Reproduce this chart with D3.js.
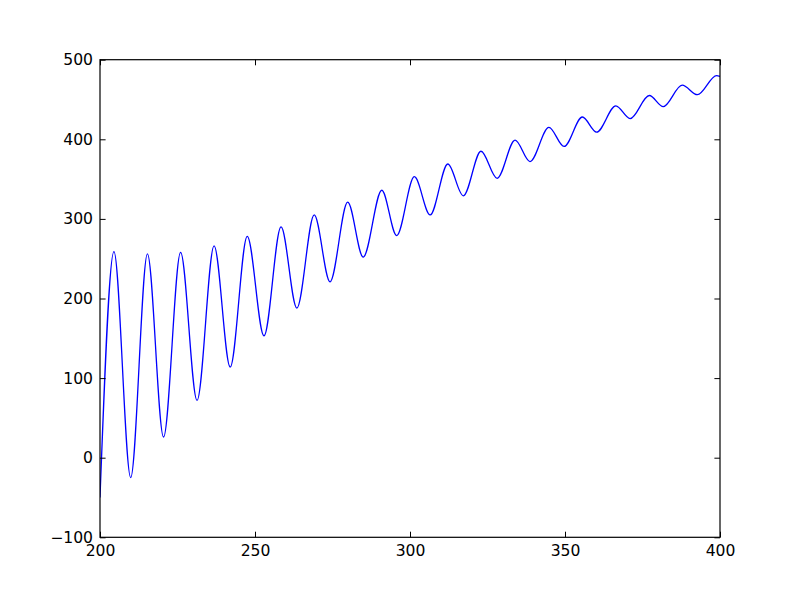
<!DOCTYPE html>
<html>
<head>
<meta charset="utf-8">
<script src="https://cdn.jsdelivr.net/npm/d3@7"></script>
<style>
  body { margin: 0; background: #fff; }
  svg { display: block; }
  .tick text { font-family: "DejaVu Sans", sans-serif; font-size: 15.6px; fill: #000; }
</style>
</head>
<body>
<div id="chart"></div>
<script>
// turning points of the curve: [x, y]
var xs = [200, 204.5, 209.9, 215.3, 220.5, 226.0, 231.3, 236.8, 242.0, 247.5, 252.9,
          258.4, 263.5, 269.1, 274.2, 279.9, 284.9, 290.9, 295.7, 301.4, 306.5,
          312.2, 317.2, 322.9, 328.1, 333.9, 338.7, 344.8, 349.7, 355.6, 360.2,
          366.4, 371.0, 377.2, 381.7, 387.8, 392.7, 398.9, 400];
var ys = [-50, 259, -25, 256, 26, 258, 72, 266, 114, 278, 153,
          290, 188, 305, 221, 321, 252, 336, 279, 353, 305,
          369, 329, 385, 351, 399, 372, 415, 391, 428, 409,
          442, 426, 455, 441, 468, 456, 480, 479];

var xTicks = [200, 250, 300, 350, 400];
var yTicks = [-100, 0, 100, 200, 300, 400, 500];

var W = 800, H = 597;
var mLeft = 100, mRight = 720, mTop = 59.7, mBottom = 537.3;

var svg = d3.select("#chart").append("svg")
    .attr("width", W)
    .attr("height", H);

var x = d3.scaleLinear().domain([200, 400]).range([mLeft, mRight]);
var y = d3.scaleLinear().domain([-100, 500]).range([mBottom, mTop]);

var data = xs.map(function(d, i) { return [d, ys[i]]; });

svg.append("defs").append("clipPath").attr("id", "clip")
  .append("rect")
    .attr("x", mLeft).attr("y", mTop)
    .attr("width", mRight - mLeft).attr("height", mBottom - mTop);

var line = d3.line()
    .x(function(d) { return x(d[0]); })
    .y(function(d) { return y(d[1]); })
    .curve(d3.curveMonotoneX);

svg.append("path")
    .datum(data)
    .attr("clip-path", "url(#clip)")
    .attr("fill", "none")
    .attr("stroke", "#0000ff")
    .attr("stroke-width", 1.3)
    .attr("d", line);

// ticks point inwards, on all four sides
var tl = 5.6;
svg.append("g")
    .attr("transform", "translate(0," + mBottom + ")")
    .call(d3.axisBottom(x).tickValues(xTicks).tickSizeInner(-tl).tickSizeOuter(0).tickPadding(8))
    .call(function(g) { g.select(".domain").remove(); });
svg.append("g")
    .attr("transform", "translate(0," + mTop + ")")
    .call(d3.axisTop(x).tickValues(xTicks).tickSizeInner(-tl).tickSizeOuter(0).tickFormat(""))
    .call(function(g) { g.select(".domain").remove(); });
svg.append("g")
    .attr("transform", "translate(" + mLeft + ",0)")
    .call(d3.axisLeft(y).tickValues(yTicks).tickSizeInner(-tl).tickSizeOuter(0).tickPadding(7)
      .tickFormat(function(d) { return d < 0 ? "\u2212" + Math.abs(d) : d; }))
    .call(function(g) { g.select(".domain").remove(); });
svg.append("g")
    .attr("transform", "translate(" + mRight + ",0)")
    .call(d3.axisRight(y).tickValues(yTicks).tickSizeInner(-tl).tickSizeOuter(0).tickFormat(""))
    .call(function(g) { g.select(".domain").remove(); });

svg.selectAll(".tick line").attr("stroke", "#000").attr("stroke-width", 1);

svg.append("rect")
    .attr("x", mLeft).attr("y", mTop)
    .attr("width", mRight - mLeft).attr("height", mBottom - mTop)
    .attr("fill", "none")
    .attr("stroke", "#000")
    .attr("stroke-width", 1.2);
</script>
</body>
</html>
